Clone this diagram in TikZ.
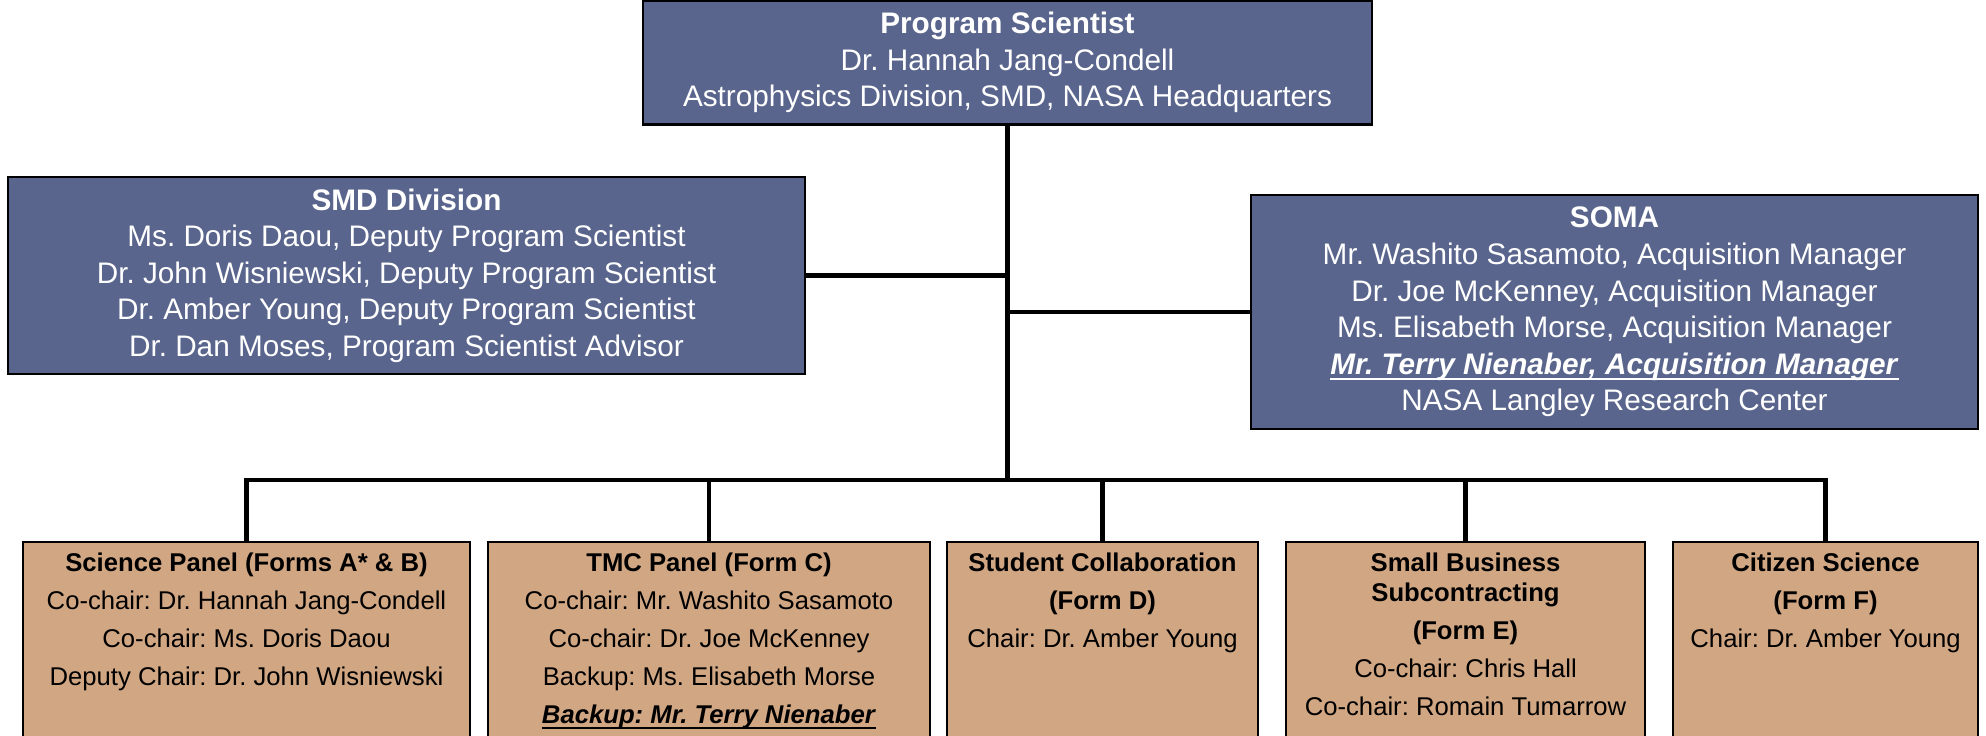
\documentclass[tikz,border=0pt]{standalone}
\usepackage{fontspec}
\setmainfont{Liberation Sans}
\usetikzlibrary{positioning}

\definecolor{slateblue}{RGB}{89,101,140}
\definecolor{tanbox}{RGB}{209,166,131}

% underline close to the baseline
\newcommand{\undertext}[1]{\setbox0\hbox{#1}\rlap{\rule[-1.6pt]{\wd0}{0.5pt}}\box0}

\tikzset{
  topbox/.style={draw=black, line width=0.6pt, fill=slateblue, text=white, align=center,
    inner sep=0pt, font=\fontsize{8.45}{10.4}\selectfont},
  panelbox/.style={draw=black, line width=0.6pt, fill=tanbox, anchor=north,
    minimum height=2.4cm, inner sep=0pt},
  paneltext/.style={align=center, anchor=north, inner sep=0pt,
    font=\fontsize{7.3}{10.8}\selectfont},
  link/.style={line width=1.2pt}
}

\begin{document}
\frenchspacing
\begin{tikzpicture}[x=0.01cm, y=-0.01cm]
    \useasboundingbox (0,0) rectangle (1986,735);
    \clip (0,0) rectangle (1986,735);

    % Top boxes
    \node[topbox, minimum width=7.29cm, minimum height=1.24cm] (ps) at (1007.5,62.5)
        {\textbf{Program Scientist}\\Dr. Hannah Jang-Condell\\Astrophysics Division, SMD, NASA Headquarters};
    \node[topbox, minimum width=7.97cm, minimum height=1.97cm] (smd) at (406.5,275.5)
        {\textbf{SMD Division}\\Ms. Doris Daou, Deputy Program Scientist\\Dr. John Wisniewski, Deputy Program Scientist\\Dr. Amber Young, Deputy Program Scientist\\Dr. Dan Moses, Program Scientist Advisor};
    \node[topbox, minimum width=7.27cm, minimum height=2.34cm] (soma) at (1614.5,312)
        {\textbf{SOMA}\\Mr. Washito Sasamoto, Acquisition Manager\\Dr. Joe McKenney, Acquisition Manager\\Ms. Elisabeth Morse, Acquisition Manager\\\undertext{\textbf{\textit{Mr. Terry Nienaber, Acquisition Manager}}}\\NASA Langley Research Center};

    % Panels
    \node[panelbox, minimum width=4.47cm] (sci) at (246.5,541) {};
    \node[panelbox, minimum width=4.42cm] (tmc) at (709,541) {};
    \node[panelbox, minimum width=3.11cm] (stu) at (1102.5,541) {};
    \node[panelbox, minimum width=3.59cm] (sbs) at (1465.5,541) {};
    \node[panelbox, minimum width=3.05cm] (cit) at (1825.5,541) {};

    \node[paneltext, below=1.1mm of sci.north] (scitxt)
        {\textbf{Science Panel (Forms A* \& B)}\\Co-chair: Dr. Hannah Jang-Condell\\Co-chair: Ms. Doris Daou\\Deputy Chair: Dr. John Wisniewski};
    \node[paneltext, below=1.1mm of tmc.north] (tmctxt)
        {\textbf{TMC Panel (Form C)}\\Co-chair: Mr. Washito Sasamoto\\Co-chair: Dr. Joe McKenney\\Backup: Ms. Elisabeth Morse\\\undertext{\textbf{\textit{Backup: Mr. Terry Nienaber}}}};
    \node[paneltext, below=1.1mm of stu.north] (stutxt)
        {\textbf{Student Collaboration}\\\textbf{(Form D)}\\Chair: Dr. Amber Young};
    \node[paneltext, below=1.1mm of sbs.north] (sbstxt)
        {\textbf{Small Business}\\[-2.3pt]\textbf{Subcontracting}\\\textbf{(Form E)}\\Co-chair: Chris Hall\\Co-chair: Romain Tumarrow};
    \node[paneltext, below=1.1mm of cit.north] (cittxt)
        {\textbf{Citizen Science}\\\textbf{(Form F)}\\Chair: Dr. Amber Young};

    % Connectors
    \coordinate (bus) at (1007.5,480);
    \draw[link] (ps.south) -- (bus);
    \draw[link] (smd.east) -- (smd.east -| ps.south);
    \draw[link] (soma.west) -- (soma.west -| ps.south);
    \draw[link] (sci.north) -- (sci.north |- bus) -- (cit.north |- bus) -- (cit.north);
    \foreach \p in {tmc,stu,sbs}
        \draw[link] (\p.north |- bus) -- (\p.north);
\end{tikzpicture}
\end{document}
